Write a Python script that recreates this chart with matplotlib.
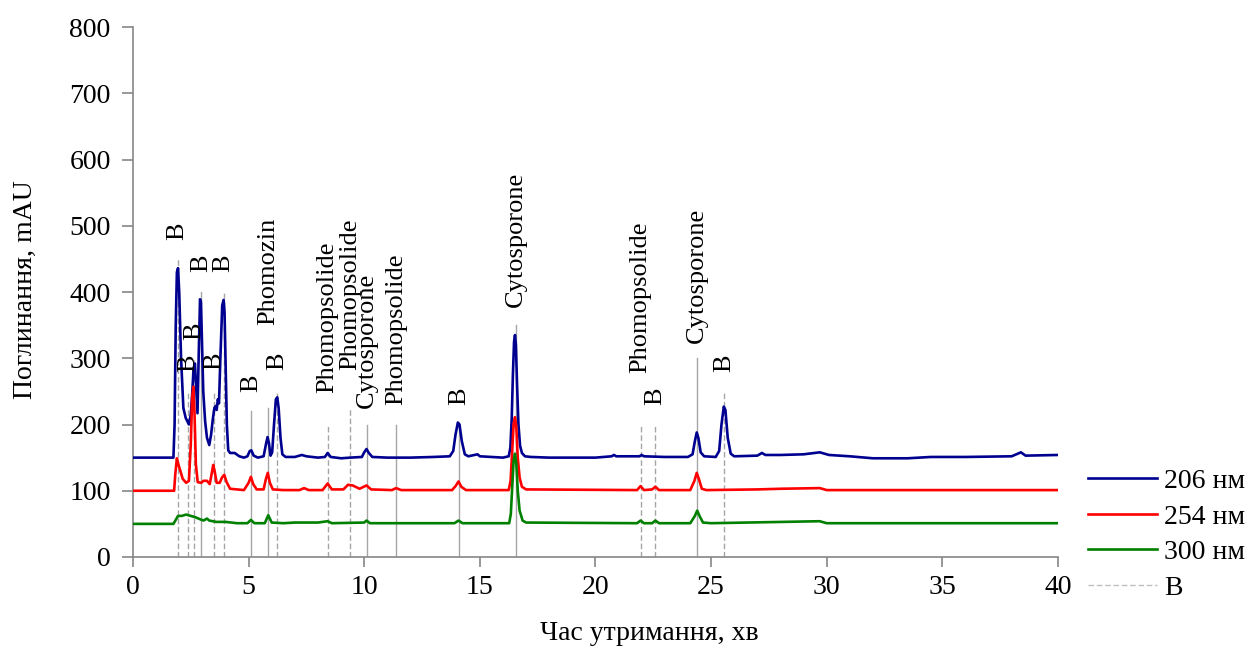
import matplotlib
matplotlib.use("Agg")
import matplotlib.pyplot as plt

plt.rcParams['font.family'] = ['Liberation Serif', 'DejaVu Serif']

# --- chromatogram traces (time, mAU) ---
t_206 = [0, 1.75, 1.80, 1.85, 1.90, 1.95, 2.00, 2.08, 2.18, 2.28, 2.35, 2.42, 2.50, 2.56, 2.62, 2.68,
         2.74, 2.79, 2.84, 2.90, 2.94, 2.98, 3.04, 3.12, 3.20, 3.30, 3.38, 3.45, 3.52, 3.58, 3.62, 3.67,
         3.72, 3.78, 3.86, 3.92, 3.96, 4.00, 4.06, 4.12, 4.20, 4.40, 4.60, 4.80, 4.95, 5.05, 5.12, 5.22,
         5.40, 5.65, 5.75, 5.82, 5.88, 5.95, 6.02, 6.10, 6.18, 6.24, 6.30, 6.38, 6.46, 6.60, 7.0, 7.3,
         7.5, 8.0, 8.3, 8.42, 8.55, 9.0, 9.4, 9.9, 10.0, 10.10, 10.2, 10.35, 11, 12, 13, 13.7, 13.85,
         13.95, 14.05, 14.12, 14.22, 14.35, 14.5, 14.9, 15.0, 15.5, 16.0, 16.25, 16.32, 16.38, 16.43,
         16.48, 16.52, 16.56, 16.61, 16.67, 16.74, 16.82, 16.95, 17.2, 18, 19, 20, 20.7, 20.8, 20.9,
         21.9, 22.0, 22.1, 23, 24.0, 24.2, 24.3, 24.38, 24.45, 24.55, 24.7, 25.2, 25.35, 25.45, 25.55,
         25.62, 25.72, 25.85, 26.0, 27, 27.2, 27.35, 28, 29, 29.7, 30.1, 31, 32, 33.5, 34.5, 36, 38,
         38.4, 38.6, 40]
v_206 = [150, 150, 200, 350, 430, 436, 400, 300, 225, 210, 205, 200, 215, 245, 285, 292,
         250, 217, 300, 389, 385, 330, 250, 205, 180, 169, 185, 207, 225, 228, 222, 238,
         232, 300, 380, 388, 370, 300, 200, 161, 157, 157, 152, 150, 152, 160, 161, 153,
         150, 152, 170, 181, 172, 153, 158, 200, 238, 241, 225, 180, 155, 151, 151, 154,
         152, 150, 151, 157, 151, 149, 150, 151, 158, 163, 157, 151, 150, 150, 151, 152, 160,
         185, 203, 200, 175, 155, 152, 155, 152, 151, 150, 152, 165, 210, 275,
         325, 335, 320, 260, 200, 168, 157, 152, 151, 150, 150, 150, 152, 154, 152,
         152, 154, 152, 151, 151, 155, 175, 188, 180, 158, 152, 151, 160, 200, 227,
         222, 180, 156, 152, 153, 157, 154, 154, 155, 158, 154, 152, 149, 149, 151, 151, 152,
         158, 153, 154]

t_254 = [0, 1.78, 1.83, 1.90, 1.96, 2.05, 2.15, 2.3, 2.42, 2.50, 2.56, 2.61, 2.66, 2.72, 2.80, 2.95,
         3.05, 3.2, 3.32, 3.40, 3.47, 3.53, 3.62, 3.75, 3.85, 3.95, 4.05, 4.2, 4.8, 5.0, 5.10, 5.2,
         5.35, 5.65, 5.75, 5.83, 5.92, 6.05, 6.5, 7.2, 7.4, 7.6, 8.2, 8.42, 8.6, 9.1, 9.3, 9.5, 9.8,
         10.1, 10.3, 11.2, 11.38, 11.6, 13.8, 13.95, 14.08, 14.2, 14.4, 16.25, 16.33, 16.40, 16.46,
         16.52, 16.58, 16.64, 16.72, 16.82, 17.0, 21.8, 21.95, 22.1, 22.45, 22.59, 22.75, 24.1, 24.28,
         24.38, 24.47, 24.6, 24.8, 27, 28, 29.7, 30, 40]
v_254 = [100, 100, 125, 149, 140, 130, 118, 112, 115, 170, 240, 257, 220, 140, 113, 112,
         115, 115, 110, 125, 139, 130, 112, 112, 120, 124, 113, 103, 101, 112, 121, 110,
         102, 102, 118, 127, 112, 102, 101, 101, 104, 101, 101, 111, 102, 102, 109, 108, 103,
         108, 102, 101, 104, 101, 101, 107, 114, 106, 101, 101, 115, 160, 200,
         211, 195, 150, 120, 106, 102, 101, 107, 101, 102, 106, 101, 101, 115,
         127, 118, 103, 101, 102, 103, 104, 101, 101]

t_300 = [0, 1.75, 1.85, 1.95, 2.1, 2.3, 2.5, 2.7, 2.9, 3.05, 3.2, 3.3, 3.6, 4.0, 4.5, 4.95, 5.1,
         5.25, 5.7, 5.85, 6.0, 6.5, 7, 8, 8.42, 8.6, 10.0, 10.1, 10.25, 13.9, 14.08, 14.25, 16.27,
         16.34, 16.40, 16.46, 16.52, 16.58, 16.64, 16.72, 16.85, 17.0, 21.8, 21.95, 22.1, 22.45, 22.59,
         22.75, 24.1, 24.3, 24.4, 24.5, 24.65, 25, 29.7, 30, 40]
v_300 = [50, 50, 56, 62, 62, 64, 62, 60, 57, 55, 58, 55, 53, 53, 51, 51, 56,
         51, 51, 63, 52, 51, 52, 52, 54, 51, 52, 55, 51, 51, 55, 51, 51,
         65, 105, 145, 156, 140, 100, 70, 55, 52, 51, 55, 51, 51, 55,
         51, 51, 62, 70, 62, 52, 51, 54, 51, 51]

# --- marker lines and their labels ---
mark_t = [1.93, 2.39, 2.64, 2.94, 3.52, 3.92, 5.10, 5.85, 6.25, 8.42, 9.38, 10.10, 11.38,
          14.11, 16.55, 21.95, 22.59, 24.40, 25.57]
mark_top = [451, 250, 300, 400, 250, 400, 221, 225, 248, 199, 225, 199, 199,
            202, 350, 199, 199, 300, 250]
mark_label = ['B', 'B', 'B', 'B', 'B', 'B', 'B', 'Phomozin', 'B', 'Phomopsolide', 'Phomopsolide',
              'Cytosporone', 'Phomopsolide', 'B', 'Cytosporone', 'Phomopsolide', 'B',
              'Cytosporone', 'B']
label_y = [478, 279, 328, 430, 282, 430, 249, 350, 282, 248, 282, 225, 229,
           229, 377, 278, 229, 323, 279]
mark_dashed = [True, True, True, False, True, True, False, False, True, True, True, False, False,
               False, False, True, True, False, True]

fig = plt.figure(figsize=(12.52, 6.51), dpi=100)
ax = fig.add_axes([0.1062, 0.1444, 0.7388, 0.8141])

grey = '#a6a6a6'
for t, top, dash in zip(mark_t, mark_top, mark_dashed):
    ax.plot([t, t], [0, top], color=grey, lw=1.0, ls=(0, (4, 2)) if dash else '-', zorder=1)

ax.plot(t_206, v_206, color='#000090', lw=1.9, label='206 нм', zorder=3)
ax.plot(t_254, v_254, color='#ff0000', lw=1.9, label='254 нм', zorder=3)
ax.plot(t_300, v_300, color='#008000', lw=1.9, label='300 нм', zorder=3)
ax.plot([], [], color='#bfbfbf', lw=1.0, ls=(0, (4, 2)), label='B')

for t, y, txt in zip(mark_t, label_y, mark_label):
    ax.text(t, y, txt, rotation=90, ha='center', va='bottom', fontsize=19, zorder=4)

ax.set_xlim(0, 40)
ax.set_ylim(0, 800)
ax.set_xticks(range(0, 41, 5))
ax.set_yticks(range(0, 801, 100))
for s in ['top', 'right']:
    ax.spines[s].set_visible(False)
for s in ['left', 'bottom']:
    ax.spines[s].set_color('#868686')
    ax.spines[s].set_linewidth(1.2)
ax.tick_params(axis='both', direction='out', color='#868686', labelsize=20, width=1.2)
ax.tick_params(axis='y', length=8, pad=8)
ax.tick_params(axis='x', length=7, pad=6)

fig.text(0.020, 0.5545, 'Поглинання, mAU', rotation=90, ha='center', va='center', fontsize=20)
fig.text(0.519, 0.0276, 'Час утримання, хв', ha='center', va='center', fontsize=20)

fig.legend(loc='center left', bbox_to_anchor=(0.869, 0.1787), frameon=False, fontsize=20,
           handlelength=2.5, handletextpad=0.25, labelspacing=0.36, borderpad=0, borderaxespad=0)

fig.savefig('out.png', dpi=100)
